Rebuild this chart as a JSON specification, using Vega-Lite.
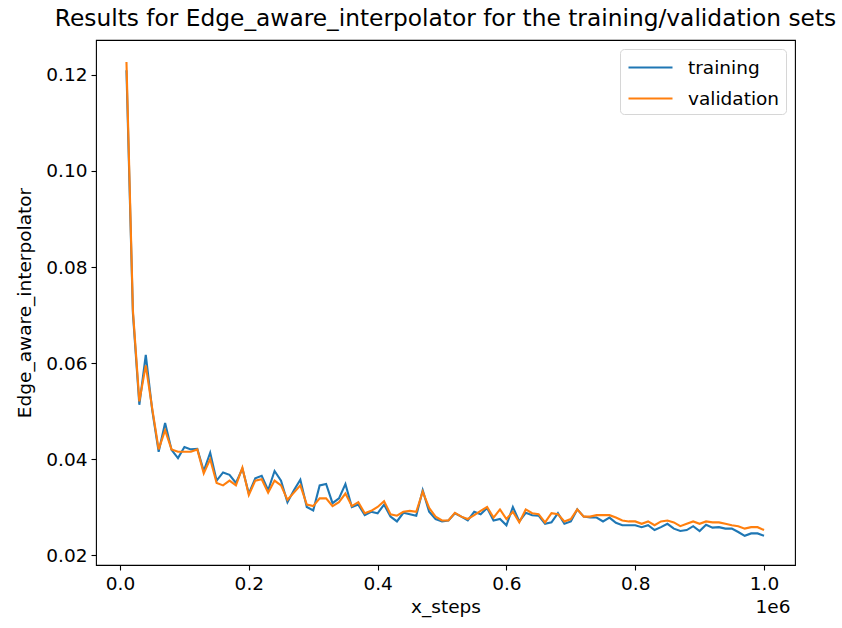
{
  "$schema": "https://vega.github.io/schema/vega-lite/v6.json",
  "width": 699,
  "height": 525,
  "autosize": {"type": "none"},
  "padding": {"left": 96, "top": 40, "right": 47, "bottom": 63},
  "background": "white",
  "config": {
    "font": "DejaVu Sans",
    "view": {"stroke": "#000000", "strokeWidth": 1.1},
    "axis": {
      "domain": false,
      "grid": false,
      "tickColor": "#000000",
      "tickSize": 5,
      "tickWidth": 1.1,
      "labelColor": "#000000",
      "labelFont": "DejaVu Sans",
      "labelFontSize": 18.5,
      "titleColor": "#000000",
      "titleFont": "DejaVu Sans",
      "titleFontSize": 18.5,
      "titleFontWeight": "normal"
    }
  },
  "title": {
    "text": "Results for Edge_aware_interpolator for the training/validation sets",
    "font": "DejaVu Sans",
    "fontSize": 23.3,
    "fontWeight": "normal",
    "color": "#000000",
    "anchor": "middle",
    "offset": 9
  },
  "data": {
    "values": [
      {"x_steps": 10000, "training": 0.1210, "validation": 0.1227},
      {"x_steps": 20000, "training": 0.0704, "validation": 0.0710},
      {"x_steps": 30000, "training": 0.0513, "validation": 0.0520},
      {"x_steps": 40000, "training": 0.0617, "validation": 0.0595},
      {"x_steps": 50000, "training": 0.0502, "validation": 0.0505},
      {"x_steps": 60000, "training": 0.0415, "validation": 0.0420},
      {"x_steps": 70000, "training": 0.0475, "validation": 0.0460},
      {"x_steps": 80000, "training": 0.0419, "validation": 0.0420},
      {"x_steps": 90000, "training": 0.0402, "validation": 0.0415},
      {"x_steps": 100000, "training": 0.0425, "validation": 0.0415},
      {"x_steps": 110000, "training": 0.0420, "validation": 0.0415},
      {"x_steps": 120000, "training": 0.0421, "validation": 0.0420},
      {"x_steps": 130000, "training": 0.0375, "validation": 0.0370},
      {"x_steps": 140000, "training": 0.0413, "validation": 0.0400},
      {"x_steps": 150000, "training": 0.0355, "validation": 0.0350},
      {"x_steps": 160000, "training": 0.0372, "validation": 0.0345},
      {"x_steps": 170000, "training": 0.0367, "validation": 0.0355},
      {"x_steps": 180000, "training": 0.0350, "validation": 0.0345},
      {"x_steps": 190000, "training": 0.0380, "validation": 0.0382},
      {"x_steps": 200000, "training": 0.0328, "validation": 0.0325},
      {"x_steps": 210000, "training": 0.0360, "validation": 0.0355},
      {"x_steps": 220000, "training": 0.0365, "validation": 0.0358},
      {"x_steps": 230000, "training": 0.0335, "validation": 0.0330},
      {"x_steps": 240000, "training": 0.0375, "validation": 0.0355},
      {"x_steps": 250000, "training": 0.0355, "validation": 0.0345},
      {"x_steps": 260000, "training": 0.0310, "validation": 0.0315},
      {"x_steps": 270000, "training": 0.0335, "validation": 0.0330},
      {"x_steps": 280000, "training": 0.0357, "validation": 0.0345},
      {"x_steps": 290000, "training": 0.0300, "validation": 0.0305},
      {"x_steps": 300000, "training": 0.0293, "validation": 0.0302},
      {"x_steps": 310000, "training": 0.0345, "validation": 0.0318},
      {"x_steps": 320000, "training": 0.0348, "validation": 0.0318},
      {"x_steps": 330000, "training": 0.0308, "validation": 0.0302},
      {"x_steps": 340000, "training": 0.0318, "validation": 0.0310},
      {"x_steps": 350000, "training": 0.0348, "validation": 0.0328},
      {"x_steps": 360000, "training": 0.0300, "validation": 0.0302},
      {"x_steps": 370000, "training": 0.0305, "validation": 0.0310},
      {"x_steps": 380000, "training": 0.0283, "validation": 0.0287},
      {"x_steps": 390000, "training": 0.0290, "validation": 0.0292},
      {"x_steps": 400000, "training": 0.0287, "validation": 0.0300},
      {"x_steps": 410000, "training": 0.0305, "validation": 0.0312},
      {"x_steps": 420000, "training": 0.0280, "validation": 0.0285},
      {"x_steps": 430000, "training": 0.0270, "validation": 0.0282},
      {"x_steps": 440000, "training": 0.0288, "validation": 0.0290},
      {"x_steps": 450000, "training": 0.0285, "validation": 0.0292},
      {"x_steps": 460000, "training": 0.0282, "validation": 0.0290},
      {"x_steps": 470000, "training": 0.0335, "validation": 0.0332},
      {"x_steps": 480000, "training": 0.0290, "validation": 0.0298},
      {"x_steps": 490000, "training": 0.0275, "validation": 0.0280},
      {"x_steps": 500000, "training": 0.0270, "validation": 0.0272},
      {"x_steps": 510000, "training": 0.0272, "validation": 0.0272},
      {"x_steps": 520000, "training": 0.0287, "validation": 0.0288},
      {"x_steps": 530000, "training": 0.0280, "validation": 0.0280},
      {"x_steps": 540000, "training": 0.0272, "validation": 0.0275},
      {"x_steps": 550000, "training": 0.0290, "validation": 0.0283},
      {"x_steps": 560000, "training": 0.0285, "validation": 0.0292},
      {"x_steps": 570000, "training": 0.0298, "validation": 0.0300},
      {"x_steps": 580000, "training": 0.0272, "validation": 0.0278},
      {"x_steps": 590000, "training": 0.0275, "validation": 0.0295},
      {"x_steps": 600000, "training": 0.0262, "validation": 0.0275},
      {"x_steps": 610000, "training": 0.0300, "validation": 0.0290},
      {"x_steps": 620000, "training": 0.0270, "validation": 0.0268},
      {"x_steps": 630000, "training": 0.0288, "validation": 0.0295},
      {"x_steps": 640000, "training": 0.0283, "validation": 0.0287},
      {"x_steps": 650000, "training": 0.0282, "validation": 0.0285},
      {"x_steps": 660000, "training": 0.0265, "validation": 0.0268},
      {"x_steps": 670000, "training": 0.0268, "validation": 0.0287},
      {"x_steps": 680000, "training": 0.0287, "validation": 0.0285},
      {"x_steps": 690000, "training": 0.0265, "validation": 0.0270},
      {"x_steps": 700000, "training": 0.0270, "validation": 0.0275},
      {"x_steps": 710000, "training": 0.0295, "validation": 0.0295},
      {"x_steps": 720000, "training": 0.0280, "validation": 0.0280},
      {"x_steps": 730000, "training": 0.0278, "validation": 0.0280},
      {"x_steps": 740000, "training": 0.0278, "validation": 0.0283},
      {"x_steps": 750000, "training": 0.0270, "validation": 0.0283},
      {"x_steps": 760000, "training": 0.0278, "validation": 0.0283},
      {"x_steps": 770000, "training": 0.0267, "validation": 0.0278},
      {"x_steps": 780000, "training": 0.0262, "validation": 0.0272},
      {"x_steps": 790000, "training": 0.0262, "validation": 0.0270},
      {"x_steps": 800000, "training": 0.0262, "validation": 0.0270},
      {"x_steps": 810000, "training": 0.0258, "validation": 0.0265},
      {"x_steps": 820000, "training": 0.0262, "validation": 0.0270},
      {"x_steps": 830000, "training": 0.0252, "validation": 0.0262},
      {"x_steps": 840000, "training": 0.0258, "validation": 0.0270},
      {"x_steps": 850000, "training": 0.0265, "validation": 0.0272},
      {"x_steps": 860000, "training": 0.0255, "validation": 0.0268},
      {"x_steps": 870000, "training": 0.0250, "validation": 0.0260},
      {"x_steps": 880000, "training": 0.0252, "validation": 0.0265},
      {"x_steps": 890000, "training": 0.0260, "validation": 0.0270},
      {"x_steps": 900000, "training": 0.0250, "validation": 0.0265},
      {"x_steps": 910000, "training": 0.0263, "validation": 0.0270},
      {"x_steps": 920000, "training": 0.0257, "validation": 0.0268},
      {"x_steps": 930000, "training": 0.0258, "validation": 0.0268},
      {"x_steps": 940000, "training": 0.0255, "validation": 0.0265},
      {"x_steps": 950000, "training": 0.0255, "validation": 0.0262},
      {"x_steps": 960000, "training": 0.0248, "validation": 0.0260},
      {"x_steps": 970000, "training": 0.0240, "validation": 0.0255},
      {"x_steps": 980000, "training": 0.0245, "validation": 0.0258},
      {"x_steps": 990000, "training": 0.0245, "validation": 0.0258},
      {"x_steps": 1000000, "training": 0.0240, "validation": 0.0252}
    ]
  },
  "transform": [
    {"fold": ["training", "validation"], "as": ["set", "value"]}
  ],
  "layer": [
    {
      "mark": {"type": "line", "strokeWidth": 2.1, "clip": true},
      "encoding": {
        "x": {
          "field": "x_steps",
          "type": "quantitative",
          "scale": {"domain": [-37300, 1048100], "nice": false, "zero": false},
          "axis": {
            "orient": "bottom",
            "title": "x_steps",
            "values": [0, 200000, 400000, 600000, 800000, 1000000],
            "labelExpr": "format(datum.value / 1000000, '.1f')",
            "labelPadding": 4,
            "titlePadding": 5
          }
        },
        "y": {
          "field": "value",
          "type": "quantitative",
          "scale": {"domain": [0.01792, 0.12729], "nice": false, "zero": false},
          "axis": {
            "title": "Edge_aware_interpolator",
            "values": [0.02, 0.04, 0.06, 0.08, 0.1, 0.12],
            "format": ".2f",
            "labelPadding": 4,
            "titlePadding": 11
          }
        },
        "color": {
          "field": "set",
          "type": "nominal",
          "scale": {"domain": ["training", "validation"], "range": ["#1f77b4", "#ff7f0e"]},
          "legend": {
            "title": null,
            "orient": "top-right",
            "offset": 9,
            "padding": 6,
            "fillColor": "#ffffff",
            "strokeColor": "#d6d6d6",
            "cornerRadius": 4,
            "symbolType": "M-2,0H2",
            "symbolSize": 484,
            "symbolOffset": 12,
            "symbolStrokeWidth": 2.1,
            "labelFont": "DejaVu Sans",
            "labelFontSize": 18.5,
            "labelColor": "#000000",
            "labelOffset": 25,
            "rowPadding": 9
          }
        }
      }
    },
    {
      "mark": {"type": "point", "opacity": 0},
      "encoding": {
        "x": {
          "field": "x_steps",
          "type": "quantitative",
          "axis": {
            "orient": "bottom",
            "title": "1e6",
            "labels": false,
            "ticks": false,
            "domain": false,
            "titleAnchor": "end",
            "titleAlign": "right",
            "titleBaseline": "top",
            "titleX": 694,
            "titlePadding": 32
          }
        }
      }
    }
  ],
  "resolve": {"axis": {"x": "independent"}}
}
